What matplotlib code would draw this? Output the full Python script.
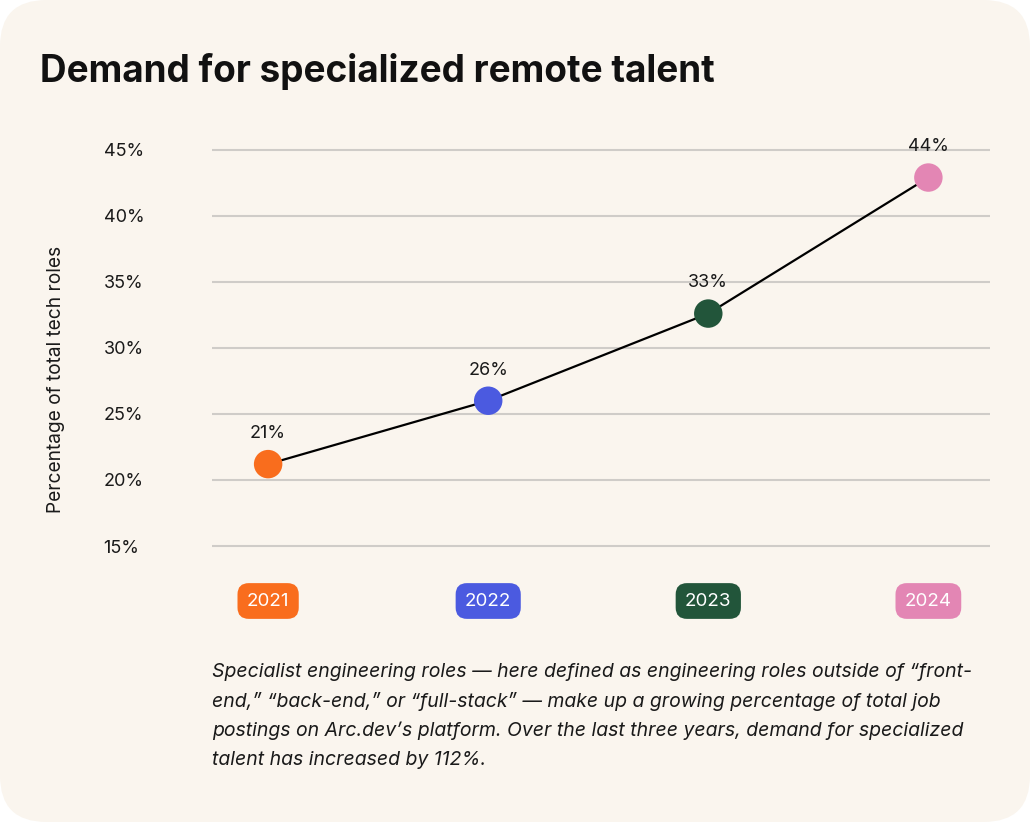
import matplotlib
matplotlib.use("Agg")
import matplotlib.pyplot as plt
from matplotlib.patches import FancyBboxPatch
from matplotlib.transforms import blended_transform_factory

# Data
years = ["2021", "2022", "2023", "2024"]
values = [21.2, 26.0, 32.6, 42.9]
value_labels = ["21%", "26%", "33%", "44%"]
colors = ["#F96D1D", "#4B5AE0", "#22553A", "#E386B4"]
yticks = [15, 20, 25, 30, 35, 40, 45]
ytick_labels = ["15%", "20%", "25%", "30%", "35%", "40%", "45%"]

title = "Demand for specialized remote talent"
ylabel = "Percentage of total tech roles"
caption = ("Specialist engineering roles \u2014 here defined as engineering roles outside of \u201cfront-\n"
           "end,\u201d \u201cback-end,\u201d or \u201cfull-stack\u201d \u2014 make up a growing percentage of total job\n"
           "postings on Arc.dev\u2019s platform. Over the last three years, demand for specialized\n"
           "talent has increased by 112%.")

bg = "#FAF5EE"
W, H = 1030, 822
plt.rcParams["font.family"] = ["Inter", "DejaVu Sans"]

fig = plt.figure(figsize=(W / 100, H / 100), dpi=100)
fig.patch.set_facecolor("white")

# rounded card background
card = FancyBboxPatch((0, 0), 1, 1, boxstyle="round,pad=0,rounding_size=0.045",
                      transform=fig.transFigure, facecolor=bg, edgecolor="none",
                      mutation_aspect=W / H, zorder=-10)
fig.patches.append(card)

# axes placement (pixels -> fractions)
left, right, top, bottom = 212, 990, 130, 560
ax = fig.add_axes([left / W, 1 - bottom / H, (right - left) / W, (bottom - top) / H])
ax.set_facecolor("none")

x = list(range(len(years)))
ax.plot(x, values, color="black", lw=1.6, zorder=2)
ax.scatter(x, values, s=420, c=colors, zorder=3, edgecolors="none")
for xi, v, lab in zip(x, values, value_labels):
    ax.annotate(lab, (xi, v), xytext=(0, 16), textcoords="offset points",
                ha="center", va="bottom", fontsize=13, color="#1a1a1a")

ax.set_xlim(-0.255, 3.28)
ax.set_ylim(13.94, 46.5)
ax.set_yticks(yticks)
ax.set_yticklabels(ytick_labels, ha="left", fontsize=13, color="#1a1a1a")
ax.tick_params(axis="y", length=0, pad=78)
ax.set_xticks([])
ax.grid(axis="y", color="#CFCCC8", lw=1.5)
for s in ax.spines.values():
    s.set_visible(False)

fig.text(56 / W, 1 - 379 / H, ylabel, rotation=90, ha="center", va="center",
         fontsize=13.8, color="#1a1a1a")

# year badges
tr = blended_transform_factory(ax.transData, fig.transFigure)
for xi, yr, c in zip(x, years, colors):
    ax.text(xi, 1 - 601 / H, yr, transform=tr, ha="center", va="center",
            fontsize=13.5, color="white",
            bbox=dict(boxstyle="round,pad=0.5,rounding_size=0.6", fc=c, ec="none"))

fig.text(40 / W, 1 - 72 / H, title, ha="left", va="center", fontsize=26.6,
         fontweight="bold", color="#111111")

fig.text(212 / W, 1 - 716 / H, caption, ha="left", va="center", fontsize=14,
         style="italic", color="#1a1a1a", linespacing=1.74)

fig.savefig("out.png", dpi=100, facecolor="white")
